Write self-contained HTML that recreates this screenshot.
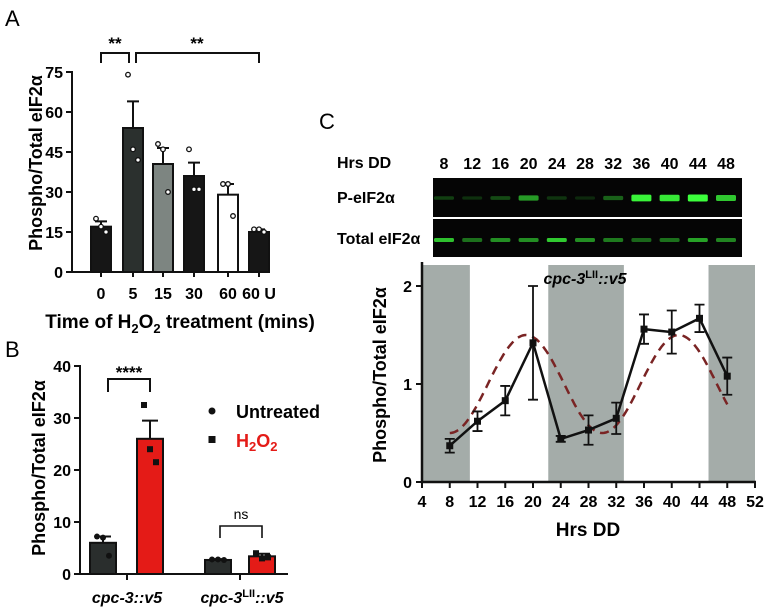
<!DOCTYPE html>
<html><head><meta charset="utf-8"><style>
html,body{margin:0;padding:0;background:#fff}
svg{display:block;font-family:"Liberation Sans",Arial,sans-serif}
.b{font-weight:bold}
</style></head><body>
<svg id="fig" width="770" height="614" viewBox="0 0 770 614" xmlns="http://www.w3.org/2000/svg">
<text x="5" y="26" font-size="22">A</text>
<text x="5" y="357" font-size="22">B</text>
<text x="319" y="129" font-size="22">C</text>
<g id="gA"></g>
<g id="gB"></g>
<g id="gBlot"></g>
<g id="gC"></g>
</svg>
<script>
// Panel A data
const aCats = ["0","5","15","30","60","60 U"];
const aVals = [17,54,40.5,36,29,15];
const aErr = [2,10,6,5,4,1];
const aPts = [[20,17,15],[74,46,42],[48,46,30],[46,31,31],[33,33,21],[16,16,15]];
const aTicks = [0,15,30,45,60,75];
// Panel B data
const bCats = ["cpc-3::v5","cpc-3LII::v5"];
const bUntreated = [6,2.7];
const bUntreatedErr = [1.2,0.15];
const bH2O2 = [26,3.4];
const bH2O2Err = [3.5,0.5];
const bUntreatedPts = [[7.2,7,3.5],[2.8,2.8,2.7]];
const bH2O2Pts = [[32.5,24,21.5],[4,3,3.2]];
const bTicks = [0,10,20,30,40];
// Panel C data
const cHours = [8,12,16,20,24,28,32,36,40,44,48];
const cVals = [0.37,0.62,0.83,1.42,0.44,0.53,0.65,1.56,1.53,1.67,1.08];
const cErr = [0.07,0.1,0.15,0.58,0.03,0.15,0.16,0.15,0.22,0.14,0.19];
const cFit = [1.0,0.5,22,19]; // mesor, amplitude, period, peak phase
const cShade = [[4,10.9],[22.2,33.1],[45.3,52]];
const cXTicks = [4,8,12,16,20,24,28,32,36,40,44,48,52];
const cYTicks = [0,1,2];
const blotP = [0.15,0.08,0.2,0.55,0.1,0.05,0.3,0.95,0.9,1.0,0.75];
const blotT = [0.75,0.35,0.5,0.5,0.8,0.5,0.4,0.3,0.35,0.6,0.45];

const NS="http://www.w3.org/2000/svg";
function mk(p,tag,attrs,txt){const e=document.createElementNS(NS,tag);for(const k in attrs)e.setAttribute(k,attrs[k]);if(txt!==undefined)e.textContent=txt;p.appendChild(e);return e;}

// ---- Panel A ----
(function(){
const g=document.getElementById('gA');
const y=v=>272-v*200/75;
const xc=[101,133,163,194,228,259];
const cols=["#161616","#2b302e","#7d8581","#161616","#ffffff","#161616"];
aVals.forEach((v,i)=>{
  const r=mk(g,'rect',{x:xc[i]-10,y:y(v),width:20,height:272-y(v),fill:cols[i],stroke:'#111','stroke-width':2});
  
  
  const e=mk(g,'path',{d:`M${xc[i]},${y(v)} V${y(v+aErr[i])} M${xc[i]-6},${y(v+aErr[i])} H${xc[i]+6}`,stroke:'#111','stroke-width':2,fill:'none'});
  
  
  aPts[i].forEach((p,j)=>{
    const c=mk(g,'circle',{cx:xc[i]+(j-1)*5,cy:y(p),r:2.3,fill:'#fff',stroke:'#111','stroke-width':1.3});
    
    
  });
  const t=mk(g,'text',{x:xc[i],y:299,'font-size':16,'text-anchor':'middle',class:'b'},aCats[i]);
  
  
  mk(g,'line',{x1:xc[i],x2:xc[i],y1:272,y2:277,stroke:'#111','stroke-width':2});
});
mk(g,'path',{d:'M72,71 V272 H268',stroke:'#111','stroke-width':2,fill:'none'});
aTicks.forEach(t=>{
  mk(g,'line',{x1:66,x2:72,y1:y(t),y2:y(t),stroke:'#111','stroke-width':2});
  const l=mk(g,'text',{x:63,y:y(t)+6,'font-size':16,'text-anchor':'end',class:'b'},t);
  
  
});
mk(g,'path',{d:'M101,63 V53 H129 V63 M136,63 V53 H259 V63',stroke:'#111','stroke-width':2,fill:'none'});
mk(g,'text',{x:115,y:49,'font-size':17,'text-anchor':'middle',class:'b'},'**');
mk(g,'text',{x:197,y:49,'font-size':17,'text-anchor':'middle',class:'b'},'**');
const yl=mk(g,'text',{x:0,y:0,'font-size':18,'text-anchor':'middle',class:'b',transform:'translate(42,163) rotate(-90)'},'Phospho/Total eIF2α');


const xl=mk(g,'text',{x:180,y:328,'font-size':19,'text-anchor':'middle',class:'b'});


xl.innerHTML='Time of H<tspan font-size="13" dy="5">2</tspan><tspan dy="-5">O</tspan><tspan font-size="13" dy="5">2</tspan><tspan dy="-5"> treatment (mins)</tspan>';
})();

// ---- Panel B ----
(function(){
const g=document.getElementById('gB');
const y=v=>574-v*5.2;
const groups=[127,240];
const xs=[[103,150],[218,262]];
bCats.forEach((c,i)=>{
  [[bUntreated,bUntreatedErr,bUntreatedPts,'#2a2e2d','untreated'],[bH2O2,bH2O2Err,bH2O2Pts,'#e41b17','h2o2']].forEach((s,k)=>{
    const x=xs[i][k],v=s[0][i];
    const r=mk(g,'rect',{x:x-13,y:y(v),width:26,height:574-y(v),fill:s[3],stroke:'#111','stroke-width':2});
    
    
    const e=s[1][i];
    mk(g,'path',{d:`M${x},${y(v)} V${y(v+e)} M${x-8},${y(v+e)} H${x+8}`,stroke:'#111','stroke-width':2,fill:'none'});
    s[2][i].forEach((p,j)=>{
      const px=x+(j-1)*6;
      const m=k==0?mk(g,'circle',{cx:px,cy:y(p),r:3,fill:'#111'}):mk(g,'rect',{x:px-3,y:y(p)-3,width:6,height:6,fill:'#111'});
      
      
    });
  });
  mk(g,'line',{x1:groups[i],x2:groups[i],y1:574,y2:580,stroke:'#111','stroke-width':2});
});
mk(g,'path',{d:'M80,365 V574 H288',stroke:'#111','stroke-width':2,fill:'none'});
bTicks.forEach(t=>{
  mk(g,'line',{x1:74,x2:80,y1:y(t),y2:y(t),stroke:'#111','stroke-width':2});
  const l=mk(g,'text',{x:71,y:y(t)+6,'font-size':16,'text-anchor':'end',class:'b'},t);
  
  
});
const t1=mk(g,'text',{x:127,y:603,'font-size':16,'text-anchor':'middle',class:'b','font-style':'italic'},'cpc-3::v5');


const t2=mk(g,'text',{x:242,y:603,'font-size':16,'text-anchor':'middle',class:'b','font-style':'italic'});


t2.innerHTML='cpc-3<tspan font-size="11" dy="-6" font-style="normal">LII</tspan><tspan dy="6">::v5</tspan>';
mk(g,'path',{d:'M108,392 V379 H150 V392',stroke:'#111','stroke-width':2,fill:'none'});
mk(g,'text',{x:129,y:378,'font-size':17,'text-anchor':'middle',class:'b'},'****');
mk(g,'path',{d:'M220,538 V526 H262 V538',stroke:'#111','stroke-width':1.6,fill:'none'});
mk(g,'text',{x:241,y:519,'font-size':14,'text-anchor':'middle'},'ns');
mk(g,'circle',{cx:212,cy:411,r:3.5,fill:'#111'});
mk(g,'rect',{x:208.5,y:436,width:7,height:7,fill:'#111'});
const le1=mk(g,'text',{x:236,y:418,'font-size':18,class:'b'},'Untreated');


const le2=mk(g,'text',{x:236,y:447,'font-size':18,class:'b',fill:'#e41b17'});


le2.innerHTML='H<tspan font-size="13" dy="4">2</tspan><tspan dy="-4">O</tspan><tspan font-size="13" dy="4">2</tspan>';
const yl=mk(g,'text',{x:0,y:0,'font-size':18,'text-anchor':'middle',class:'b',transform:'translate(45,468) rotate(-90)'},'Phospho/Total eIF2α');


})();

// ---- Blot ----
(function(){
const g=document.getElementById('gBlot');
mk(g,'text',{x:337,y:168,'font-size':16,class:'b'},'Hrs DD');
mk(g,'text',{x:337,y:203,'font-size':16,class:'b'},'P-eIF2α');
mk(g,'text',{x:337,y:244,'font-size':16,class:'b'},'Total eIF2α');
mk(g,'rect',{x:433,y:178,width:309,height:39,fill:'#050505'});
mk(g,'rect',{x:433,y:219,width:309,height:38,fill:'#050505'});
cHours.forEach((h,i)=>{
  const x=444+i*28.2;
  const l=mk(g,'text',{x:x,y:169,'font-size':16,'text-anchor':'middle',class:'b'},h);
  
  
  const p=blotP[i];
  const b1=mk(g,'rect',{x:x-10,y:198-1.5-p*2,width:20,height:3+p*4,rx:1.5,fill:'#3cff3c','fill-opacity':0.1+p*0.9});
  
  
  const t=blotT[i];
  const b2=mk(g,'rect',{x:x-10,y:240-2,width:20,height:4,rx:1.5,fill:'#3cff3c','fill-opacity':0.15+t*0.8});
  
  
});
})();

// ---- Panel C ----
(function(){
const g=document.getElementById('gC');
const x=h=>422+(h-4)*333/48;
const y=v=>482-v*98;
cShade.forEach(s=>{
  const r=mk(g,'rect',{x:x(s[0]),y:265,width:x(s[1])-x(s[0]),height:482-265,fill:'#a4aca9'});
  
  
});
let d='';
for(let t=cHours[0];t<=cHours[cHours.length-1]+0.001;t+=0.25){
  const v=cFit[0]+cFit[1]*Math.cos(2*Math.PI*(t-cFit[3])/cFit[2]);
  d+=(d?'L':'M')+x(t).toFixed(1)+','+y(v).toFixed(1);
}
const fc=mk(g,'path',{d:d,stroke:'#7a2424','stroke-width':2.5,fill:'none','stroke-dasharray':'9,6'});


cHours.forEach((h,i)=>{
  const v=cVals[i],e=cErr[i],X=x(h);
  mk(g,'path',{d:`M${X},${y(v-e)} V${y(v+e)} M${X-5},${y(v-e)} H${X+5} M${X-5},${y(v+e)} H${X+5}`,stroke:'#111','stroke-width':1.8,fill:'none'});
});
const ln=mk(g,'polyline',{points:cHours.map((h,i)=>x(h)+','+y(cVals[i])).join(' '),stroke:'#111','stroke-width':2.5,fill:'none'});


cHours.forEach((h,i)=>{
  const m=mk(g,'rect',{x:x(h)-3.5,y:y(cVals[i])-3.5,width:7,height:7,fill:'#111'});
  
  
});
mk(g,'path',{d:'M422,262 V482 H756',stroke:'#111','stroke-width':2.5,fill:'none'});
cXTicks.forEach(t=>{
  mk(g,'line',{x1:x(t),x2:x(t),y1:482,y2:488,stroke:'#111','stroke-width':2});
  const l=mk(g,'text',{x:x(t),y:507,'font-size':16,'text-anchor':'middle',class:'b'},t);
  
  
});
cYTicks.forEach(t=>{
  mk(g,'line',{x1:416,x2:422,y1:y(t),y2:y(t),stroke:'#111','stroke-width':2});
  const l=mk(g,'text',{x:412,y:y(t)+6,'font-size':16,'text-anchor':'end',class:'b'},t);
  
  
});
const tt=mk(g,'text',{x:585,y:284,'font-size':16,'text-anchor':'middle',class:'b','font-style':'italic'});


tt.innerHTML='cpc-3<tspan font-size="11" dy="-6" font-style="normal">LII</tspan><tspan dy="6">::v5</tspan>';
const xl=mk(g,'text',{x:588,y:536,'font-size':19,'text-anchor':'middle',class:'b'},'Hrs DD');


const yl=mk(g,'text',{x:0,y:0,'font-size':18,'text-anchor':'middle',class:'b',transform:'translate(386,375) rotate(-90)'},'Phospho/Total eIF2α');


})();
</script>
</body></html>
